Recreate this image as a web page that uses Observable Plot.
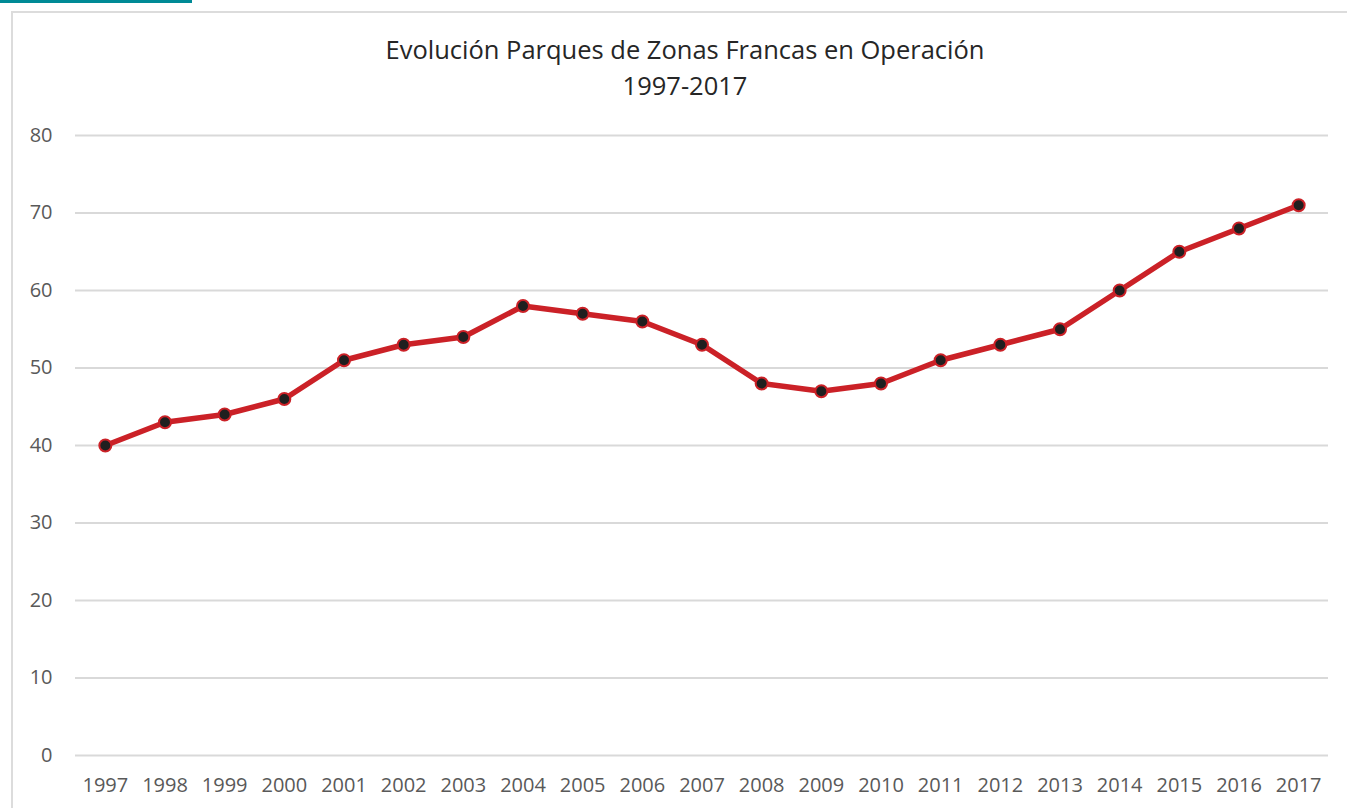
<!DOCTYPE html>
<html>
<head>
<meta charset="utf-8">
<script src="https://cdn.jsdelivr.net/npm/d3@7"></script>
<script src="https://cdn.jsdelivr.net/npm/@observablehq/plot@0.6"></script>
<style>
  html, body { margin: 0; padding: 0; background: #fff; width: 1347px; height: 808px; overflow: hidden; }
  #bar { position: absolute; left: 0; top: 0; width: 192px; height: 3px; background: #008A96; }
  #frame { position: absolute; left: 11px; top: 11px; width: 1400px; height: 900px; border-left: 2px solid #dcdcdc; border-top: 2px solid #dcdcdc; }
  #chart { position: absolute; left: 0; top: 0; }
  #title { position: absolute; left: 0; width: 1370px; top: 31px; text-align: center; font-family: "Open Sans", sans-serif; font-size: 25.5px; line-height: 36px; color: #262626; z-index: 2; }
</style>
</head>
<body>
<div id="bar"></div>
<div id="frame"></div>
<div id="chart"></div>
<div id="title">Evolución Parques de Zonas Francas en Operación<br>1997-2017</div>
<script>
const years = [1997,1998,1999,2000,2001,2002,2003,2004,2005,2006,2007,2008,2009,2010,2011,2012,2013,2014,2015,2016,2017];
const parques = [40,43,44,46,51,53,54,58,57,56,53,48,47,48,51,53,55,60,65,68,71];
const yTicks = [0,10,20,30,40,50,60,70,80];

const data = years.map((y, i) => ({year: y, value: parques[i]}));

const chart = Plot.plot({
  width: 1347,
  height: 808,
  marginTop: 135,
  marginBottom: 53,
  marginLeft: 75,
  marginRight: 19,
  style: {fontFamily: "'Open Sans', sans-serif", fontSize: "20px", color: "#595959", background: "transparent"},
  x: {type: "linear", domain: [1996.5, 2017.5], label: null},
  y: {domain: [0, 80], label: null},
  marks: [
    Plot.ruleY(yTicks, {stroke: "#d9d9d9", strokeWidth: 2}),
    Plot.axisX({ticks: years, tickFormat: d => String(d), tickSize: 0, tickPadding: 22, fontSize: 20, fill: "#595959", label: null}),
    Plot.axisY({ticks: yTicks, tickSize: 0, tickPadding: 23, fontSize: 20, fill: "#595959", label: null}),
    Plot.line(data, {x: "year", y: "value", stroke: "#CB2127", strokeWidth: 5.5, curve: "linear"}),
    Plot.dot(data, {x: "year", y: "value", r: 6, fill: "#1f1f1f", stroke: "#CB2127", strokeWidth: 2})
  ]
});
document.getElementById("chart").appendChild(chart);
</script>
</body>
</html>
